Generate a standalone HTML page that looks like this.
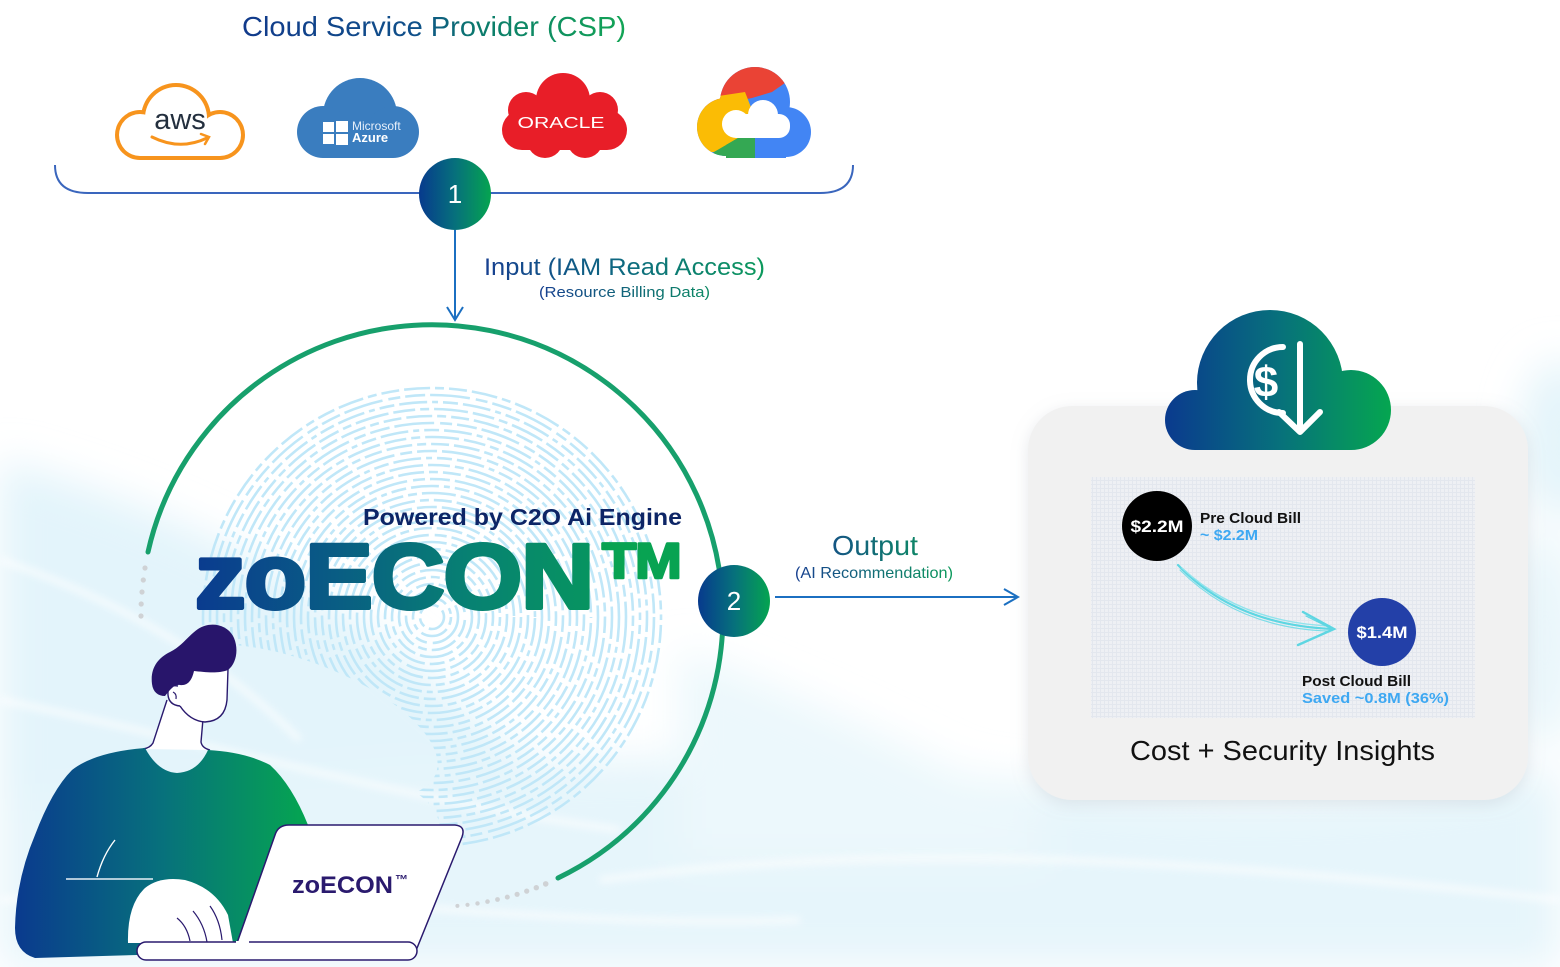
<!DOCTYPE html>
<html><head><meta charset="utf-8">
<style>
html,body{margin:0;padding:0;background:#fff;width:1560px;height:967px;overflow:hidden;}
svg{display:block;}
text{font-family:"Liberation Sans",Arial,sans-serif;}
</style></head><body>
<svg width="1560" height="967" viewBox="0 0 1560 967" xmlns="http://www.w3.org/2000/svg">
<defs>
  <filter id="blur20" x="-20%" y="-20%" width="140%" height="140%"><feGaussianBlur stdDeviation="20"/></filter>
  <filter id="blur4"><feGaussianBlur stdDeviation="4"/></filter>
  <filter id="shadow" x="-10%" y="-10%" width="120%" height="125%"><feDropShadow dx="0" dy="4" stdDeviation="8" flood-color="#9aa6b0" flood-opacity="0.25"/></filter>
  <linearGradient id="node" x1="0" y1="0" x2="1" y2="0"><stop offset="0" stop-color="#073a8d"/><stop offset="0.5" stop-color="#06707c"/><stop offset="1" stop-color="#05a450"/></linearGradient>
  <linearGradient id="gTitle" gradientUnits="userSpaceOnUse" x1="242" y1="0" x2="626" y2="0"><stop offset="0" stop-color="#113a8b"/><stop offset="0.45" stop-color="#10508a"/><stop offset="0.62" stop-color="#0b7b6c"/><stop offset="1" stop-color="#13a555"/></linearGradient>
  <linearGradient id="gInput" gradientUnits="userSpaceOnUse" x1="484" y1="0" x2="765" y2="0"><stop offset="0" stop-color="#173f90"/><stop offset="0.5" stop-color="#0d6a80"/><stop offset="1" stop-color="#0c9a5c"/></linearGradient>
  <linearGradient id="gRes" gradientUnits="userSpaceOnUse" x1="539" y1="0" x2="710" y2="0"><stop offset="0" stop-color="#173f90"/><stop offset="1" stop-color="#0c8a64"/></linearGradient>
  <linearGradient id="gOut" gradientUnits="userSpaceOnUse" x1="795" y1="0" x2="953" y2="0"><stop offset="0" stop-color="#173f90"/><stop offset="1" stop-color="#0c9a5c"/></linearGradient>
  <linearGradient id="gZo" gradientUnits="userSpaceOnUse" x1="0" y1="0" x2="360" y2="0"><stop offset="0" stop-color="#0a3b8f"/><stop offset="0.35" stop-color="#095c84"/><stop offset="0.7" stop-color="#078272"/><stop offset="1" stop-color="#079460"/></linearGradient>
  <linearGradient id="gShirt" gradientUnits="userSpaceOnUse" x1="15" y1="0" x2="310" y2="0"><stop offset="0" stop-color="#0a3a8e"/><stop offset="0.5" stop-color="#07717c"/><stop offset="1" stop-color="#05a650"/></linearGradient>
  <linearGradient id="gCloud" gradientUnits="userSpaceOnUse" x1="1165" y1="0" x2="1391" y2="0"><stop offset="0" stop-color="#0a3a8e"/><stop offset="0.5" stop-color="#07707c"/><stop offset="1" stop-color="#05a650"/></linearGradient>
  <pattern id="grid" width="4" height="4" patternUnits="userSpaceOnUse"><rect width="4" height="4" fill="#eef0f4"/><path d="M0 0.5H4M0.5 0V4" stroke="#e3e7ee" stroke-width="1"/></pattern>
  <mask id="fpMask" maskUnits="userSpaceOnUse" x="0" y="0" width="1560" height="967">
    <rect x="0" y="0" width="1560" height="967" fill="#000"/>
    <circle cx="432" cy="617" r="236" fill="#fff"/>
    <ellipse cx="295" cy="722" rx="150" ry="62" transform="rotate(20 295 722)" fill="#000"/>
    <ellipse cx="330" cy="830" rx="110" ry="60" fill="#000"/>
  </mask>
  <clipPath id="clipRed"><polygon points="690,55 795,55 795,76 772,92 752,98 724,104 690,110"/></clipPath>
  <clipPath id="clipYel"><polygon points="690,106 712,97 745,92 752,110 738,140 714,152 690,152"/></clipPath>
  <clipPath id="clipGrn"><polygon points="714,152 738,138 755,138 755,170 700,170"/></clipPath>
  <clipPath id="clipCloud"><rect x="1150" y="300" width="260" height="150"/></clipPath>
</defs>

<!-- background -->
<rect width="1560" height="967" fill="#fff"/>
<g filter="url(#blur20)">
  <path d="M0 460 C 150 500 330 580 470 710 C 560 790 640 840 700 860 L 700 967 L 0 967 Z" fill="#e3f4fb"/>
  <path d="M0 800 C 300 780 700 730 1000 780 C 1250 815 1420 795 1560 770 L 1560 967 L 0 967 Z" fill="#e6f5fb"/>
  <path d="M 680 650 C 820 700 950 770 1040 810 L 1040 860 L 680 860 Z" fill="#ecf8fc"/>
  <ellipse cx="1560" cy="440" rx="40" ry="80" fill="#e4f4fa"/>
  <ellipse cx="1545" cy="640" rx="35" ry="110" fill="#e9f6fb"/>
</g>
<g stroke="#ffffff" stroke-width="6" fill="none" opacity="0.7" filter="url(#blur4)">
  <path d="M0 560 C 120 600 220 660 300 740"/>
  <path d="M0 700 C 200 740 400 800 620 830"/>
  <path d="M600 880 C 900 840 1200 860 1560 900"/>
  <path d="M0 900 C 300 880 500 930 800 920"/>
</g>

<!-- fingerprint -->
<g mask="url(#fpMask)" fill="none" stroke="#c0e7f8" stroke-width="2.6">
  <circle cx="432" cy="617" r="12" stroke-dasharray="22 5 9 5"/>
  <circle cx="432" cy="617" r="19" stroke-dasharray="15 5 28 5 6 5" stroke-dashoffset="7"/>
  <circle cx="432" cy="617" r="26" stroke-dasharray="40 6 12 5 20 5"/>
  <circle cx="432" cy="617" r="33" stroke-dasharray="9 5 18 5 26 5" stroke-dashoffset="11"/>
  <circle cx="432" cy="617" r="40" stroke-dasharray="22 5 9 5 34 5"/>
  <circle cx="432" cy="617" r="47" stroke-dasharray="15 5 28 5 6 5" stroke-dashoffset="3"/>
  <circle cx="432" cy="617" r="54" stroke-dasharray="40 6 12 5 20 5" stroke-dashoffset="17"/>
  <circle cx="432" cy="617" r="61" stroke-dasharray="9 5 18 5 26 5"/>
  <circle cx="432" cy="617" r="68" stroke-dasharray="22 5 9 5 34 5" stroke-dashoffset="13"/>
  <circle cx="432" cy="617" r="75" stroke-dasharray="15 5 28 5 6 5"/>
  <circle cx="432" cy="617" r="82" stroke-dasharray="40 6 12 5 20 5" stroke-dashoffset="9"/>
  <circle cx="432" cy="617" r="89" stroke-dasharray="9 5 18 5 26 5" stroke-dashoffset="21"/>
  <circle cx="432" cy="617" r="96" stroke-dasharray="22 5 9 5 34 5"/>
  <circle cx="432" cy="617" r="103" stroke-dasharray="15 5 28 5 6 5" stroke-dashoffset="19"/>
  <circle cx="432" cy="617" r="110" stroke-dasharray="40 6 12 5 20 5"/>
  <circle cx="432" cy="617" r="117" stroke-dasharray="9 5 18 5 26 5" stroke-dashoffset="5"/>
  <circle cx="432" cy="617" r="124" stroke-dasharray="22 5 9 5 34 5" stroke-dashoffset="27"/>
  <circle cx="432" cy="617" r="131" stroke-dasharray="15 5 28 5 6 5"/>
  <circle cx="432" cy="617" r="138" stroke-dasharray="40 6 12 5 20 5" stroke-dashoffset="31"/>
  <circle cx="432" cy="617" r="145" stroke-dasharray="9 5 18 5 26 5"/>
  <circle cx="432" cy="617" r="152" stroke-dasharray="22 5 9 5 34 5" stroke-dashoffset="8"/>
  <circle cx="432" cy="617" r="159" stroke-dasharray="15 5 28 5 6 5" stroke-dashoffset="14"/>
  <circle cx="432" cy="617" r="166" stroke-dasharray="40 6 12 5 20 5"/>
  <circle cx="432" cy="617" r="173" stroke-dasharray="9 5 18 5 26 5" stroke-dashoffset="16"/>
  <circle cx="432" cy="617" r="180" stroke-dasharray="22 5 9 5 34 5"/>
  <circle cx="432" cy="617" r="187" stroke-dasharray="15 5 28 5 6 5" stroke-dashoffset="23"/>
  <circle cx="432" cy="617" r="194" stroke-dasharray="40 6 12 5 20 5" stroke-dashoffset="4"/>
  <circle cx="432" cy="617" r="201" stroke-dasharray="9 5 18 5 26 5"/>
  <circle cx="432" cy="617" r="208" stroke-dasharray="22 5 9 5 34 5" stroke-dashoffset="19"/>
  <circle cx="432" cy="617" r="215" stroke-dasharray="15 5 28 5 6 5"/>
  <circle cx="432" cy="617" r="222" stroke-dasharray="40 6 12 5 20 5" stroke-dashoffset="12"/>
  <circle cx="432" cy="617" r="229" stroke-dasharray="9 5 18 5 26 5" stroke-dashoffset="6"/>
</g>

<!-- title -->
<text x="242" y="36" font-size="28" fill="url(#gTitle)" textLength="384" lengthAdjust="spacingAndGlyphs">Cloud Service Provider (CSP)</text>

<!-- AWS -->
<g>
  <g fill="#f7941d">
    <circle cx="140" cy="135" r="25"/><circle cx="176" cy="118" r="35"/><circle cx="220" cy="135" r="25"/>
    <rect x="140" y="120" width="80" height="40"/>
  </g>
  <g fill="#fff">
    <circle cx="140" cy="135" r="21"/><circle cx="176" cy="118" r="31"/><circle cx="220" cy="135" r="21"/>
    <rect x="140" y="120" width="80" height="36"/>
  </g>
  <text x="180" y="129" font-size="29" fill="#232f3e" text-anchor="middle">aws</text>
  <path d="M152 137 Q 180 151 207 138" fill="none" stroke="#f7941d" stroke-width="3" stroke-linecap="round"/>
  <path d="M201 134 L 209 137 L 205 144" fill="none" stroke="#f7941d" stroke-width="2.5" stroke-linecap="round"/>
</g>

<!-- Azure -->
<g fill="#3a7dbf">
  <circle cx="360" cy="115" r="37"/><circle cx="323" cy="132" r="26"/><circle cx="393" cy="132" r="26"/>
  <rect x="323" y="118" width="70" height="40"/>
</g>
<g fill="#fff">
  <rect x="323" y="122" width="11" height="10"/><rect x="336" y="121" width="12" height="11"/>
  <rect x="323" y="134" width="11" height="10"/><rect x="336" y="134" width="12" height="11"/>
</g>
<text x="352" y="130" font-size="12" fill="#e6effa">Microsoft</text>
<text x="352" y="142" font-size="13" fill="#fff" font-weight="bold">Azure</text>

<!-- Oracle -->
<g fill="#e81e28">
  <circle cx="563" cy="100" r="27"/><circle cx="526" cy="110" r="18"/><circle cx="600" cy="110" r="18"/>
  <circle cx="522" cy="130" r="20"/><circle cx="607" cy="130" r="20"/>
  <circle cx="545" cy="140" r="18"/><circle cx="585" cy="140" r="18"/>
  <rect x="522" y="105" width="85" height="45"/>
</g>
<text x="561" y="128" font-size="16" fill="#fff" text-anchor="middle" textLength="87" lengthAdjust="spacingAndGlyphs">ORACLE</text>

<!-- Google Cloud -->
<g>
  <g fill="#4285f4"><circle cx="755" cy="102" r="35"/><circle cx="726" cy="127" r="29"/><circle cx="786" cy="132" r="25"/><rect x="726" y="120" width="60" height="38"/></g>
  <g fill="#ea4335" clip-path="url(#clipRed)"><circle cx="755" cy="102" r="35"/><circle cx="726" cy="127" r="29"/></g>
  <g fill="#fbbc05" clip-path="url(#clipYel)"><circle cx="755" cy="102" r="35"/><circle cx="726" cy="127" r="29"/><rect x="726" y="120" width="60" height="38"/></g>
  <g fill="#34a853" clip-path="url(#clipGrn)"><circle cx="726" cy="127" r="29"/><rect x="726" y="120" width="60" height="38"/></g>
  <g fill="#fff"><circle cx="736" cy="124" r="14"/><circle cx="763" cy="115" r="15"/><rect x="736" y="114" width="54" height="24" rx="11"/><rect x="736" y="120" width="30" height="18"/></g>
</g>

<!-- bracket -->
<path d="M55 165 Q 55 193 88 193 L 820 193 Q 853 193 853 165" fill="none" stroke="#3a66bd" stroke-width="2"/>

<!-- node 1 + input arrow -->
<line x1="455" y1="230" x2="455" y2="320" stroke="#1b6fc1" stroke-width="2"/>
<path d="M447 307 L 455 320 L 463 307" fill="none" stroke="#1b6fc1" stroke-width="2"/>
<circle cx="455" cy="194" r="36" fill="url(#node)"/>
<text x="455" y="203" font-size="26" fill="#fff" text-anchor="middle">1</text>
<text x="484" y="275" font-size="24" fill="url(#gInput)" textLength="281" lengthAdjust="spacingAndGlyphs">Input (IAM Read Access)</text>
<text x="539" y="297" font-size="15" fill="url(#gRes)" textLength="171" lengthAdjust="spacingAndGlyphs">(Resource Billing Data)</text>

<!-- big arc -->
<path d="M148 552 A 291 291 0 1 1 558 878" fill="none" stroke="#17a06c" stroke-width="5" stroke-linecap="round"/>
<g fill="#cfd2d5">
  <circle cx="145" cy="568" r="2.6"/><circle cx="143.3" cy="580" r="2.6"/><circle cx="142" cy="592" r="2.6"/><circle cx="141.2" cy="604" r="2.6"/><circle cx="141" cy="616" r="2.6"/>
  <circle cx="545.7" cy="883.9" r="2.8"/><circle cx="536.3" cy="887.7" r="2.7"/><circle cx="526.7" cy="891.1" r="2.6"/><circle cx="517.1" cy="894.3" r="2.6"/><circle cx="507.3" cy="897.1" r="2.5"/><circle cx="497.5" cy="899.5" r="2.4"/><circle cx="487.5" cy="901.6" r="2.3"/><circle cx="477.5" cy="903.4" r="2.2"/><circle cx="467.5" cy="904.8" r="2.1"/><circle cx="457.4" cy="905.9" r="2"/>
</g>

<!-- zoECON title -->
<text x="682" y="525" font-size="23" font-weight="bold" fill="#0d2566" text-anchor="end" textLength="319" lengthAdjust="spacingAndGlyphs">Powered by C2O Ai Engine</text>
<g transform="translate(195 608) scale(1.1 1)">
  <text x="0" y="0" font-size="92" font-weight="bold" fill="url(#gZo)" stroke="url(#gZo)" stroke-width="4" stroke-linejoin="round" letter-spacing="-1">zoECON</text>
</g>
<g transform="translate(602 578) scale(1.12 1)">
  <text x="0" y="0" font-size="50" font-weight="bold" fill="#08a352" stroke="#08a352" stroke-width="2.5" stroke-linejoin="round" letter-spacing="-1">TM</text>
</g>

<!-- node 2 + output -->
<circle cx="734" cy="601" r="36" fill="url(#node)"/>
<text x="734" y="610" font-size="26" fill="#fff" text-anchor="middle">2</text>
<line x1="775" y1="597" x2="1017" y2="597" stroke="#1b6fc1" stroke-width="2"/>
<path d="M1004 589 L 1018 597 L 1004 605" fill="none" stroke="#1b6fc1" stroke-width="2"/>
<text x="875" y="555" font-size="28" fill="url(#gOut)" text-anchor="middle" textLength="86" lengthAdjust="spacingAndGlyphs">Output</text>
<text x="874" y="578" font-size="16" fill="url(#gOut)" text-anchor="middle" textLength="158" lengthAdjust="spacingAndGlyphs">(AI Recommendation)</text>

<!-- person -->
<g>
  <path d="M167 700 L 153 743 Q 150 748 143 749 L 210 750 Q 202 747 201 742 L 203 719 Z" fill="#fff"/>
  <path d="M167 700 L 153 743 Q 150 748 143 749" fill="none" stroke="#2a1a6e" stroke-width="1.4"/>
  <path d="M203 719 L 201 742 Q 202 748 210 750" fill="none" stroke="#2a1a6e" stroke-width="1.4"/>
  <path d="M145 748 Q 158 772 177 773 Q 198 772 208 750 Q 245 752 270 765 Q 292 785 308 825 L 300 850 L 235 945 L 137 955 L 35 958 Q 15 952 15 928 Q 16 880 35 835 Q 52 790 72 770 Q 95 752 145 748 Z" fill="url(#gShirt)"/>
  <path d="M115 840 Q 103 855 97 877" fill="none" stroke="#fff" stroke-width="1.4"/>
  <line x1="66" y1="879" x2="153" y2="879" stroke="#e8f0f6" stroke-width="1.4"/>
  <path d="M194 671 L 228 669 L 227 700 Q 225 721 205 722 Q 188 721 180 706 Q 168 705 168 694 Q 168 684 178 686 Z" fill="#fff"/>
  <path d="M228 669 L 227 700 Q 225 721 205 722 Q 190 721 180 706" fill="none" stroke="#2a1a6e" stroke-width="1.4"/>
  <path d="M178 686 Q 167 684 168 695 Q 169 705 180 706" fill="none" stroke="#2a1a6e" stroke-width="1.4"/>
  <path d="M173 692 Q 177 694 176 699" fill="none" stroke="#2a1a6e" stroke-width="1.2"/>
  <path d="M152 684 C 150 668 158 658 170 652 C 182 646 188 636 198 629 C 210 621 228 624 234 638 C 239 650 236 664 228 670 C 218 674 204 672 194 671 C 192 680 188 686 180 685 C 174 684 170 690 165 696 C 158 696 153 692 152 684 Z" fill="#28156b"/>
  <path d="M128 943 Q 127 905 145 888 Q 160 876 185 880 Q 215 888 228 915 L 233 943 Z" fill="#fff"/>
  <g fill="none" stroke="#2a1a6e" stroke-width="1.2">
    <path d="M177 918 Q 187 926 190 941"/><path d="M193 911 Q 204 924 207 942"/><path d="M210 906 Q 220 920 222 940"/>
  </g>
  <path d="M237 943 L 275 835 Q 278 825 289 825 L 455 825 Q 466 826 462 837 L 413 958 L 237 958 Z" fill="#fff" stroke="#2a1a6e" stroke-width="1.5" stroke-linejoin="round"/>
  <rect x="137" y="942" width="280" height="18" rx="9" fill="#fff" stroke="#2a1a6e" stroke-width="1.5"/>
  <line x1="236" y1="942" x2="249" y2="942" stroke="#fff" stroke-width="2"/>
  <text x="292" y="893" font-size="24" font-weight="bold" fill="#2a1a6e" textLength="101" lengthAdjust="spacingAndGlyphs">zoECON</text>
  <text x="395" y="884" font-size="13" font-weight="bold" fill="#2a1a6e">™</text>
</g>

<!-- right card -->
<rect x="1028" y="406" width="500" height="394" rx="44" fill="#f1f1f1" filter="url(#shadow)"/>
<g fill="url(#gCloud)" clip-path="url(#clipCloud)">
  <circle cx="1270" cy="383" r="73"/><circle cx="1195" cy="420" r="30"/><circle cx="1351" cy="410" r="40"/>
  <rect x="1195" y="400" width="156" height="50"/>
</g>
<g fill="none" stroke="#fff" stroke-width="6" stroke-linecap="round" stroke-linejoin="round">
  <path d="M1283 347 A 33 33 0 1 0 1283 413"/>
  <line x1="1300" y1="344" x2="1300" y2="428"/>
  <path d="M1279 412 L 1300 432 L 1320 412"/>
</g>
<text x="1266" y="397" font-size="44" font-weight="bold" fill="#fff" text-anchor="middle">$</text>

<rect x="1091" y="477" width="384" height="241" fill="url(#grid)"/>
<circle cx="1157" cy="526" r="35" fill="#000"/>
<text x="1157" y="532" font-size="17" font-weight="bold" fill="#fff" text-anchor="middle" textLength="53" lengthAdjust="spacingAndGlyphs">$2.2M</text>
<text x="1200" y="523" font-size="15" font-weight="bold" fill="#111" textLength="101" lengthAdjust="spacingAndGlyphs">Pre Cloud Bill</text>
<text x="1200" y="540" font-size="15" font-weight="bold" fill="#3ea8f2" textLength="58" lengthAdjust="spacingAndGlyphs">~ $2.2M</text>
<g fill="none" stroke="#5ed6e2" stroke-linecap="round">
  <path d="M1178 565 Q 1235 625 1333 629" stroke-width="2.2"/>
  <path d="M1182 568 Q 1240 622 1330 626" stroke-width="1.4" stroke="#8fe3ec"/>
  <path d="M1180 570 Q 1238 628 1328 631" stroke-width="1.2" stroke="#7ddde8"/>
  <path d="M1303 612 L 1334 629 L 1298 645" stroke-width="2.4"/>
  <path d="M1306 616 L 1330 628" stroke-width="1.2"/>
</g>
<circle cx="1382" cy="632" r="34" fill="#2340a8"/>
<text x="1382" y="638" font-size="17" font-weight="bold" fill="#fff" text-anchor="middle" textLength="51" lengthAdjust="spacingAndGlyphs">$1.4M</text>
<text x="1302" y="686" font-size="15" font-weight="bold" fill="#111" textLength="109" lengthAdjust="spacingAndGlyphs">Post Cloud Bill</text>
<text x="1302" y="703" font-size="15" font-weight="bold" fill="#3ea8f2" textLength="147" lengthAdjust="spacingAndGlyphs">Saved ~0.8M (36%)</text>
<text x="1130" y="760" font-size="28" fill="#111" textLength="305" lengthAdjust="spacingAndGlyphs">Cost + Security Insights</text>
</svg>
</body></html>
